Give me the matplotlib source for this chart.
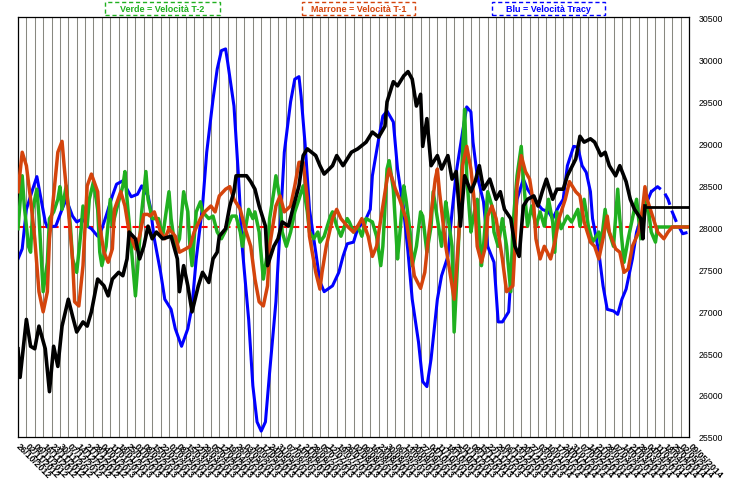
import pandas as pd
import matplotlib
matplotlib.use("Agg")
import matplotlib.pyplot as plt
from matplotlib.patches import Rectangle

plt.rcParams['font.family'] = ['Liberation Sans', 'DejaVu Sans']

# Prezzo (nero): sessione, valore
price_x = [0, 1, 4, 6, 8, 10, 13, 15, 17, 19, 21, 24, 26, 28, 31, 33, 35, 38, 41, 43,
           45, 48, 50, 52, 53, 56, 58, 60, 62, 64, 66, 69, 73, 76, 77, 79, 81, 83, 86, 88,
           91, 93, 95, 96, 99, 101, 103, 104, 107, 109, 111, 113, 115, 118, 119, 122, 124, 126, 129, 131,
           134, 136, 138, 142, 144, 146, 150, 152, 155, 157, 159, 162, 166, 169, 172, 175, 176, 179, 181, 184,
           186, 188, 190, 192, 193, 195, 197, 200, 202, 205, 207, 209, 211, 213, 216, 218, 220, 222, 225, 228,
           230, 232, 235, 237, 239, 241, 243, 246, 248, 250, 252, 255, 257, 260, 262, 266, 268, 270, 273, 275,
           278, 280, 282, 285, 287, 290, 292, 294, 297, 298, 299]
price_y = [26550, 26210, 26900, 26580, 26550, 26820, 26550, 26040, 26580, 26340, 26820, 27140, 26940, 26750, 26870, 26820, 26990, 27380, 27300, 27180,
           27380, 27460, 27420, 27620, 27940, 27860, 27620, 27770, 28010, 27860, 27940, 27860, 27890, 27620, 27230, 27540, 27300, 26990, 27300, 27460,
           27340, 27620, 27700, 27890, 27980, 28250, 28420, 28610, 28610, 28610, 28540, 28450, 28250, 28010, 27540, 27770, 27860, 28060, 28010, 28210,
           28490, 28850, 28930, 28850, 28730, 28630, 28730, 28850, 28730, 28810, 28890, 28930, 29010, 29130, 29070, 29200, 29490, 29730, 29680, 29800,
           29850, 29760, 29440, 29580, 28960, 29290, 28730, 28850, 28690, 28850, 28570, 28660, 28010, 28610, 28420, 28540, 28730, 28450, 28570, 28330,
           28420, 28210, 28100, 27770, 27650, 28250, 28330, 28370, 28250, 28420, 28570, 28330, 28450, 28450, 28610, 28810, 29080, 29010, 29050, 29010,
           28850, 28890, 28730, 28610, 28730, 28540, 28330, 28210, 28100, 27860, 28250]
level_x = [299, 320]
level_y = [28240, 28240]

# Blu = Velocità Tracy
tracy_x = [0, 2, 4, 7, 9, 11, 13, 14, 18, 21, 23, 26, 28, 31, 33, 35, 38, 40, 42, 45,
           47, 50, 52, 54, 57, 59, 62, 63, 65, 68, 70, 73, 75, 78, 81, 83, 85, 88, 90, 93,
           95, 97, 99, 100, 103, 105, 107, 110, 112, 114, 116, 118, 120, 123, 125, 127, 130, 132, 134, 135,
           137, 139, 142, 144, 146, 150, 153, 155, 157, 160, 162, 166, 168, 169, 172, 174, 176, 179, 181, 184,
           186, 188, 191, 193, 195, 197, 200, 202, 205, 207, 209, 212, 214, 216, 217, 219, 222, 224, 227, 229,
           231, 234, 236, 238, 241, 243, 247, 250, 253, 255, 258, 260, 262, 265, 267, 269, 271, 273, 274, 277,
           279, 281, 284, 286, 288, 290, 293, 295, 298, 300, 302]
tracy_y = [27620, 27740, 28210, 28450, 28600, 28330, 28060, 28000, 28010, 28210, 28330, 28130, 28060, 28100, 28010, 27980, 27890, 27980, 28130, 28370,
           28510, 28550, 28450, 28360, 28390, 28490, 28370, 28250, 27860, 27460, 27140, 27020, 26790, 26580, 26790, 27060, 27620, 28250, 28890, 29520,
           29880, 30100, 30120, 29960, 29440, 28660, 27740, 26900, 26110, 25680, 25570, 25680, 26270, 27110, 28010, 28890, 29490, 29760, 29790, 29560,
           28960, 28210, 27700, 27350, 27230, 27300, 27460, 27650, 27800, 27820, 27980, 28100, 28210, 28610, 29050, 29320, 29380, 29250, 28690, 28180,
           27700, 27140, 26630, 26160, 26100, 26430, 27140, 27420, 27650, 28180, 28650, 29130, 29430, 29370, 29010, 28610, 28300, 27770, 27580, 26870,
           26870, 26990, 27770, 28330, 28570, 28450, 28300, 28210, 28180, 28100, 28250, 28330, 28730, 28960, 28950, 28730, 28650, 28420, 28100, 27700,
           27300, 27020, 27000, 26960, 27140, 27260, 27620, 27940, 28180, 28300, 28420]
tracy_fc_x = [302, 305, 308, 310, 312, 314, 317, 320]
tracy_fc_y = [28420, 28480, 28420, 28330, 28180, 28060, 27920, 27940]

# Marrone = Velocità T-1
t1_x = [0, 2, 4, 6, 8, 10, 12, 14, 15, 17, 19, 21, 22, 24, 26, 27, 29, 31, 32, 33,
        35, 38, 39, 41, 43, 45, 46, 49, 51, 53, 56, 58, 60, 62, 63, 65, 68, 70, 72, 75,
        77, 80, 82, 84, 87, 89, 92, 94, 96, 99, 101, 103, 106, 108, 111, 113, 115, 117, 119, 120,
        123, 125, 127, 130, 132, 134, 136, 138, 139, 142, 144, 145, 147, 150, 152, 154, 157, 160, 162, 164,
        167, 169, 171, 174, 176, 177, 180, 182, 185, 187, 189, 192, 194, 196, 199, 200, 201, 204, 206, 208,
        209, 211, 212, 214, 216, 218, 219, 221, 223, 224, 226, 228, 231, 233, 236, 237, 238, 240, 242, 244,
        246, 247, 249, 251, 254, 256, 258, 261, 263, 266, 268, 270, 273, 275, 277, 279, 281, 282, 285, 287,
        289, 291, 293, 296, 298, 299, 300, 303, 305, 308, 310, 312, 320]
t1_y = [28420, 28890, 28730, 28330, 27860, 27230, 26990, 27230, 27860, 28370, 28890, 29020, 28730, 28210, 27620, 27110, 27060, 27540, 28010, 28490,
        28630, 28420, 28010, 27700, 27580, 27740, 28210, 28420, 28250, 27940, 27740, 27890, 28150, 28150, 28130, 28180, 27940, 27860, 27980, 27890,
        27700, 27740, 27770, 27940, 28100, 28180, 28250, 28180, 28370, 28450, 28480, 28330, 28210, 28010, 27770, 27380, 27110, 27060, 27300, 27770,
        28250, 28370, 28180, 28250, 28490, 28770, 28770, 28330, 27890, 27460, 27260, 27460, 27770, 28100, 28210, 28100, 28010, 27940, 28010, 28100,
        27890, 27650, 27770, 28250, 28570, 28690, 28450, 28330, 28100, 27770, 27420, 27270, 27460, 27940, 28570, 28690, 28420, 27770, 27460, 27140,
        27460, 28210, 28730, 28960, 28690, 28210, 27770, 27580, 27770, 28130, 28250, 28100, 27620, 27230, 27300, 27770, 28490, 28850, 28660, 28570,
        28250, 27860, 27620, 27770, 27620, 27820, 28100, 28330, 28540, 28420, 28370, 28060, 27820, 27770, 27620, 27860, 28130, 27940, 27740, 27700,
        27460, 27500, 27770, 27940, 28250, 28480, 28330, 28100, 27940, 27860, 27940, 28000, 28000]

# Verde = Velocità T-2
t2_x = [0, 2, 3, 5, 6, 7, 9, 10, 12, 14, 15, 17, 19, 20, 21, 23, 25, 26, 28, 30,
        31, 33, 34, 36, 38, 39, 40, 42, 44, 45, 47, 50, 51, 52, 54, 56, 57, 59, 61, 62,
        64, 67, 69, 72, 73, 75, 77, 79, 81, 82, 83, 85, 87, 88, 91, 93, 95, 97, 100, 102,
        104, 106, 107, 110, 112, 113, 115, 117, 119, 120, 122, 123, 125, 126, 128, 130, 132, 134, 136, 138,
        139, 141, 143, 144, 146, 149, 150, 152, 154, 157, 158, 160, 162, 164, 166, 169, 171, 173, 174, 176,
        177, 179, 181, 182, 184, 185, 187, 188, 190, 192, 193, 195, 197, 198, 200, 202, 204, 205, 207, 208,
        210, 212, 213, 214, 216, 217, 219, 221, 222, 224, 226, 227, 229, 231, 233, 235, 236, 238, 240, 241,
        243, 245, 247, 249, 251, 253, 255, 256, 257, 259, 262, 264, 267, 268, 270, 272, 274, 277, 278, 280,
        281, 284, 286, 287, 289, 291, 293, 295, 297, 299, 300, 302, 304, 305, 320]
t2_y = [27980, 28610, 28250, 27770, 27700, 28210, 28450, 28130, 27230, 27580, 28100, 28180, 28330, 28480, 28210, 28490, 28010, 27620, 27460, 27940,
        28250, 28010, 28330, 28540, 28210, 27700, 27540, 27770, 28330, 28010, 28210, 28490, 28660, 28330, 27770, 27180, 27500, 28180, 28660, 28330,
        28100, 28100, 27890, 28420, 28100, 27740, 27860, 28420, 28180, 27770, 27540, 28180, 28300, 28180, 28100, 28130, 27940, 27860, 28010, 28130,
        28130, 27940, 27770, 28210, 28100, 28180, 27940, 27380, 27700, 28100, 28420, 28610, 28330, 27940, 27770, 27940, 28180, 28330, 28490, 28180,
        27940, 27860, 27940, 27820, 27890, 28130, 28180, 28010, 27890, 28100, 28060, 27940, 28010, 27890, 28100, 28060, 27890, 27540, 27770, 28690,
        28790, 28450, 27620, 27890, 28490, 28330, 27940, 27540, 27770, 28180, 28130, 27700, 28010, 28420, 28100, 27770, 28300, 28130, 27770, 26750,
        27770, 28890, 29400, 28610, 27940, 28100, 28330, 27540, 27770, 28420, 28250, 27940, 27770, 28100, 27770, 27230, 28010, 28610, 28960, 28570,
        28010, 28250, 28010, 28180, 28010, 28330, 28060, 27700, 28180, 27980, 28130, 28060, 28210, 28010, 28330, 28010, 27820, 27940, 27770, 28210,
        28010, 27770, 28450, 28100, 27580, 27860, 28100, 28330, 27860, 28180, 28330, 27940, 27820, 28000, 28000]

zero_level = 28000
n_sessions = 320
date_labels = pd.date_range("2012-10-26", periods=81, freq="W-FRI").strftime("%d/%m/%Y").tolist()

fig = plt.figure(figsize=(7.3, 4.85), dpi=100)
ax = fig.add_axes([18 / 730, 47 / 485, 671 / 730, 420 / 485])

# griglia verticale
for k in range(0, n_sessions + 1, 4):
    ax.axvline(k, color='#888880', lw=0.75, zorder=0)

ax.axhline(zero_level, color='#ff0000', lw=1.5, ls=(0, (3, 2.5)), zorder=1)
ax.plot(tracy_x, tracy_y, color='#0000ff', lw=2.2, zorder=2)
ax.plot(tracy_fc_x, tracy_fc_y, color='#0000ff', lw=2.2, ls=(0, (4, 2)), zorder=2)
ax.plot(t2_x, t2_y, color='#20b020', lw=2.5, zorder=3)
ax.plot(t1_x, t1_y, color='#d4440c', lw=2.5, zorder=4)
ax.plot(price_x, price_y, color='#000000', lw=2.6, zorder=5)
ax.plot(level_x, level_y, color='#000000', lw=2.0, zorder=5)

ax.set_xlim(0, n_sessions)
ax.set_ylim(25500, 30500)
ax.yaxis.tick_right()
ax.set_yticks(range(25500, 30501, 500))
ax.tick_params(axis='y', length=0, labelsize=6.3, pad=7)
ax.set_xticks(range(0, n_sessions + 1, 4))
ax.set_xticklabels(date_labels, rotation=-45, rotation_mode='anchor', ha='left', va='center',
                   fontsize=6.5, fontweight='bold')
ax.tick_params(axis='x', length=0, pad=5)
for s in ax.spines.values():
    s.set_color('black')
    s.set_linewidth(0.9)

# legende in alto
boxes = [("Verde = Velocità T-2", '#20b020', 105, 220),
         ("Marrone = Velocità T-1", '#d4440c', 302, 415),
         ("Blu = Velocità Tracy", '#0000ff', 492, 605)]
for txt, col, x0, x1 in boxes:
    fig.patches.append(Rectangle((x0 / 730, 1 - 16 / 485), (x1 - x0) / 730, 13 / 485,
                                 transform=fig.transFigure, fill=False, edgecolor=col,
                                 lw=1.0, ls=(0, (3, 2))))
    fig.text((x0 + x1) / 2 / 730, 1 - 9.5 / 485, txt, color=col, fontsize=6.5,
             fontweight='bold', ha='center', va='center')

fig.savefig("out.png", dpi=100)
